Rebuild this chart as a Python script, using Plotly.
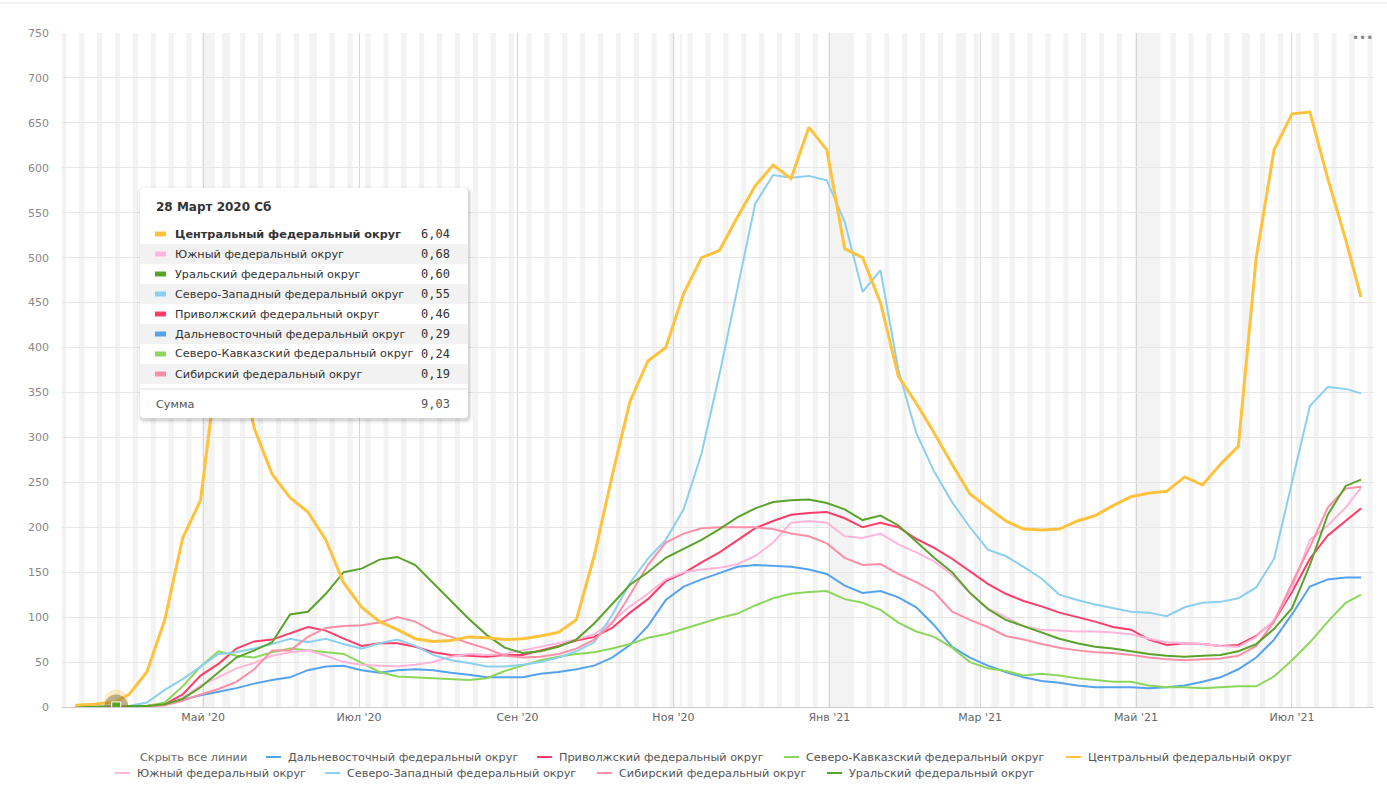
import pandas as pd
import plotly.graph_objects as go

# ---------------- data (weekly readings, per 100k) ----------------
DATES = list(pd.date_range("2020-03-12", "2021-07-22", freq="7D").strftime("%Y-%m-%d")) + ["2021-07-28"]

FAR_EAST = [0, 0, 0.2, 1, 1, 3, 8, 13, 17, 21,
            26, 30, 33, 41, 45, 46, 41, 38, 41, 42,
            41, 38, 36, 33, 33, 33, 37, 39, 42, 46,
            55, 69, 90, 119, 134, 142, 149, 156, 158, 157,
            156, 153, 148, 135, 127, 129, 122, 111, 91, 67,
            55, 46, 39, 33, 29, 27, 24, 22, 22, 22,
            21, 22, 24, 28, 33, 42, 55, 75, 103, 134,
            142, 144, 144]
VOLGA = [0, 0, 0.4, 1, 1, 3, 14, 35, 48, 65,
         73, 75, 82, 89, 85, 76, 68, 71, 71, 67,
         61, 58, 57, 56, 58, 58, 63, 68, 74, 78,
         88, 105, 120, 140, 149, 161, 172, 186, 199, 207,
         214, 216, 217, 210, 200, 205, 200, 187, 177, 165,
         151, 137, 126, 118, 112, 105, 100, 95, 89, 86,
         75, 69, 71, 70, 68, 69, 79, 96, 128, 165,
         191, 207, 221]
N_CAUCASUS = [0, 0, 0.2, 0.5, 1, 5, 23, 45, 62, 57,
              55, 61, 65, 63, 61, 59, 49, 39, 34, 33,
              32, 31, 30, 32, 40, 46, 52, 56, 59, 61,
              65, 70, 77, 81, 87, 93, 99, 104, 113, 121,
              126, 128, 129, 120, 116, 108, 94, 84, 78, 66,
              50, 43, 40, 35, 37, 35, 32, 30, 28, 28,
              24, 22, 22, 21, 22, 23, 23, 34, 52, 72,
              95, 116, 125]
CENTRAL = [2, 3, 5, 14, 39, 97, 188, 230, 390, 400,
           310, 259, 233, 217, 186, 138, 111, 95, 86, 76,
           73, 74, 78, 77, 75, 76, 79, 83, 97, 168,
           257, 340, 385, 400, 460, 500, 508, 545, 580, 603,
           588, 645, 620, 510, 500, 450, 368, 338, 305, 270,
           237, 222, 207, 198, 197, 198, 207, 213, 224, 234,
           238, 240, 256, 247, 270, 290, 500, 620, 660, 662,
           588, 520, 456]
SOUTH = [0, 0, 0.6, 1, 1, 2, 10, 24, 33, 43,
         49, 57, 61, 63, 57, 50, 47, 46, 45, 47,
         50, 56, 59, 58, 59, 63, 67, 71, 75, 81,
         95, 112, 126, 142, 150, 153, 155, 159, 168, 183,
         205, 207, 205, 190, 188, 193, 181, 172, 162, 147,
         127, 110, 100, 90, 86, 85, 84, 84, 83, 81,
         76, 72, 71, 70, 68, 67, 78, 97, 132, 186,
         202, 222, 244]
NORTH_WEST = [0, 0, 0.5, 1, 5, 19, 31, 45, 59, 61,
              65, 70, 76, 72, 76, 70, 65, 71, 75, 68,
              58, 52, 49, 45, 45, 47, 50, 55, 62, 72,
              102, 138, 165, 186, 220, 282, 370, 465, 560, 592,
              589, 591, 586, 540, 462, 486, 375, 305, 262, 228,
              200, 175, 168, 156, 143, 125, 119, 114, 110, 106,
              105, 101, 111, 116, 117, 121, 133, 165, 250, 335,
              356, 354, 349]
SIBERIA = [0, 0, 0.15, 1, 1, 2, 7, 14, 20, 28,
           42, 63, 63, 78, 88, 90, 91, 94, 100, 95,
           84, 78, 71, 65, 57, 55, 56, 59, 65, 75,
           93, 125, 158, 183, 193, 199, 200, 200, 200, 198,
           193, 190, 182, 166, 158, 159, 148, 139, 128, 106,
           97, 89, 79, 75, 70, 66, 63, 61, 60, 58,
           55, 53, 52, 53, 54, 57, 68, 95, 138, 178,
           222, 243, 245]
URAL = [0, 0, 0.5, 1, 1, 3, 9, 22, 39, 55,
        63, 72, 103, 106, 126, 150, 154, 164, 167, 158,
        138, 118, 98, 80, 66, 60, 62, 67, 75, 93,
        115, 136, 150, 166, 176, 186, 198, 211, 221, 228,
        230, 231, 227, 220, 208, 213, 202, 184, 166, 150,
        127, 109, 97, 90, 83, 76, 71, 67, 65, 62,
        59, 57, 56, 57, 58, 62, 70, 87, 110, 158,
        214, 246, 253]

NAMES = {
    "fe": "Дальневосточный федеральный округ",
    "vo": "Приволжский федеральный округ",
    "nc": "Северо-Кавказский федеральный округ",
    "ce": "Центральный федеральный округ",
    "so": "Южный федеральный округ",
    "nw": "Северо-Западный федеральный округ",
    "si": "Сибирский федеральный округ",
    "ur": "Уральский федеральный округ",
}
SERIES = {"fe": FAR_EAST, "vo": VOLGA, "nc": N_CAUCASUS, "ce": CENTRAL,
          "so": SOUTH, "nw": NORTH_WEST, "si": SIBERIA, "ur": URAL}

# hovered day shown in the tooltip
HOVER_DATE = "2020-03-28"
HOVER_TITLE = "28 Март 2020 Сб"
HOVER_VALUES = {"ce": 6.04, "so": 0.68, "ur": 0.60, "nw": 0.55,
                "vo": 0.46, "fe": 0.29, "nc": 0.24, "si": 0.19}
HOVER_SUM = 9.03
HOVER_SERIES = "ur"

TICK_DATES = ["2020-05-01", "2020-07-01", "2020-09-01", "2020-11-01",
              "2021-01-01", "2021-03-01", "2021-05-01", "2021-07-01"]
TICK_TEXT = ["Май '20", "Июл '20", "Сен '20", "Ноя '20",
             "Янв '21", "Мар '21", "Май '21", "Июл '21"]

HOLIDAYS = [("2020-05-01", "2020-05-05"), ("2020-05-09", "2020-05-11"),
            ("2020-06-12", "2020-06-14"), ("2020-11-04", "2020-11-04"),
            ("2021-01-01", "2021-01-10"), ("2021-02-21", "2021-02-23"),
            ("2021-03-06", "2021-03-08"), ("2021-05-01", "2021-05-10"),
            ("2021-06-12", "2021-06-14")]

# ---------------- style ----------------
COLORS = {"fe": "#55a3ee", "vo": "#ff3d68", "nc": "#8dd65c", "ce": "#ffc23c",
          "so": "#ffb6da", "nw": "#8ccfee", "si": "#ff8fa6", "ur": "#5aa32a"}
WIDTHS = {k: 2 for k in COLORS}
WIDTHS["ce"] = 3
DRAW_ORDER = ["fe", "vo", "nc", "so", "nw", "si", "ur", "ce"]

W, H = 1387, 792
PL, PR, PT, PB = 62, 1374, 33, 707
FONT = "DejaVu Sans"
TXT = 11.25


def px(x):
    return (x - PL) / (PR - PL)


def py(y):
    return (PB - y) / (PB - PT)


fig = go.Figure()

for key in DRAW_ORDER:
    s = pd.Series(SERIES[key], index=pd.to_datetime(DATES), dtype=float)
    s.loc[pd.Timestamp(HOVER_DATE)] = HOVER_VALUES[key]
    s = s.sort_index()
    fig.add_trace(go.Scatter(
        x=s.index, y=s.values, mode="lines", name=NAMES[key],
        line=dict(color=COLORS[key], width=WIDTHS[key]),
        showlegend=False, hoverinfo="skip"))

# hover halo + marker
fig.add_trace(go.Scatter(x=[HOVER_DATE], y=[HOVER_VALUES["ce"]], mode="markers",
                         marker=dict(size=24, color="rgba(255,200,80,0.35)"),
                         showlegend=False, hoverinfo="skip"))
fig.add_trace(go.Scatter(x=[HOVER_DATE], y=[HOVER_VALUES[HOVER_SERIES]], mode="markers",
                         marker=dict(size=24, color="rgba(110,105,60,0.45)"),
                         showlegend=False, hoverinfo="skip"))
fig.add_trace(go.Scatter(x=[HOVER_DATE], y=[HOVER_VALUES[HOVER_SERIES]], mode="markers",
                         marker=dict(size=9, symbol="square", color=COLORS[HOVER_SERIES],
                                     line=dict(color="white", width=1)),
                         showlegend=False, hoverinfo="skip"))

shapes = []
# weekend stripes
half = pd.Timedelta(hours=12)
for sat in pd.date_range("2020-03-07", "2021-07-31", freq="W-SAT"):
    shapes.append(dict(type="rect", xref="x", yref="paper", x0=sat - half,
                       x1=sat + pd.Timedelta(days=1) + half, y0=0, y1=1,
                       fillcolor="#f3f3f3", line=dict(width=0), layer="below"))
for a, b in HOLIDAYS:
    shapes.append(dict(type="rect", xref="x", yref="paper", x0=pd.Timestamp(a) - half,
                       x1=pd.Timestamp(b) + half, y0=0, y1=1,
                       fillcolor="#f3f3f3", line=dict(width=0), layer="below"))

# top border line
shapes.append(dict(type="line", xref="paper", yref="paper", x0=px(0), x1=px(W),
                   y0=py(3), y1=py(3), line=dict(color="#e3e3e3", width=1)))

annotations = []

# ---------------- tooltip ----------------
TX0, TX1, TY0, TY1 = 140, 468, 188, 418


def rrect(x0, y0, x1, y1, r):
    return (f"M {px(x0 + r)} {py(y0)} L {px(x1 - r)} {py(y0)} "
            f"Q {px(x1)} {py(y0)} {px(x1)} {py(y0 + r)} L {px(x1)} {py(y1 - r)} "
            f"Q {px(x1)} {py(y1)} {px(x1 - r)} {py(y1)} L {px(x0 + r)} {py(y1)} "
            f"Q {px(x0)} {py(y1)} {px(x0)} {py(y1 - r)} L {px(x0)} {py(y0 + r)} "
            f"Q {px(x0)} {py(y0)} {px(x0 + r)} {py(y0)} Z")


for d, op in [(4, 0.03), (2, 0.05), (1, 0.07)]:
    shapes.append(dict(type="path", xref="paper", yref="paper",
                       path=rrect(TX0 - d + 1, TY0 - d + 2, TX1 + d + 1, TY1 + d + 2, 4 + d),
                       fillcolor=f"rgba(0,0,0,{op})", line=dict(width=0), layer="above"))
shapes.append(dict(type="path", xref="paper", yref="paper", path=rrect(TX0, TY0, TX1, TY1, 4),
                   fillcolor="white", line=dict(width=0), layer="above"))

annotations.append(dict(xref="paper", yref="paper", x=px(154), y=py(207), xanchor="left",
                        yanchor="middle", showarrow=False, text=f"<b>{HOVER_TITLE}</b>",
                        font=dict(family=FONT, size=12, color="#333333")))

order = sorted(HOVER_VALUES, key=lambda k: -HOVER_VALUES[k])
ROW0, ROWH = 234, 20
for i, key in enumerate(order):
    yc = ROW0 + i * ROWH
    if i % 2 == 1:
        shapes.append(dict(type="rect", xref="paper", yref="paper", x0=px(TX0), x1=px(TX1),
                           y0=py(yc - 10), y1=py(yc + 10), fillcolor="#f2f2f2",
                           line=dict(width=0), layer="above"))
    shapes.append(dict(type="rect", xref="paper", yref="paper", x0=px(155), x1=px(166),
                       y0=py(yc - 2.5), y1=py(yc + 2.5), fillcolor=COLORS[key],
                       line=dict(width=0), layer="above"))
    name = NAMES[key]
    if i == 0:
        name = f"<b>{name}</b>"
    annotations.append(dict(xref="paper", yref="paper", x=px(173), y=py(yc), xanchor="left",
                            yanchor="middle", showarrow=False, text=name,
                            font=dict(family=FONT, size=TXT, color="#333333")))
    annotations.append(dict(xref="paper", yref="paper", x=px(452), y=py(yc), xanchor="right",
                            yanchor="middle", showarrow=False,
                            text=f"{HOVER_VALUES[key]:.2f}".replace(".", ","),
                            font=dict(family="DejaVu Sans Mono", size=12, color="#333333")))

shapes.append(dict(type="line", xref="paper", yref="paper", x0=px(TX0), x1=px(TX1),
                   y0=py(389), y1=py(389), line=dict(color="#e2e2e2", width=1), layer="above"))
annotations.append(dict(xref="paper", yref="paper", x=px(154), y=py(404), xanchor="left",
                        yanchor="middle", showarrow=False, text="Сумма",
                        font=dict(family=FONT, size=TXT, color="#555555")))
annotations.append(dict(xref="paper", yref="paper", x=px(452), y=py(404), xanchor="right",
                        yanchor="middle", showarrow=False,
                        text=f"{HOVER_SUM:.2f}".replace(".", ","),
                        font=dict(family="DejaVu Sans Mono", size=12, color="#555555")))

# ---------------- legend (drawn like the original) ----------------
LEG_ROWS = [
    (757, [("hide", 138), ("fe", 266), ("vo", 537), ("nc", 784), ("ce", 1066)]),
    (773, [("so", 115), ("nw", 325), ("si", 597), ("ur", 827)]),
]
for yrow, items in LEG_ROWS:
    for key, x0 in items:
        if key == "hide":
            annotations.append(dict(xref="paper", yref="paper", x=px(x0), y=py(yrow),
                                    xanchor="left", yanchor="middle", showarrow=False,
                                    text="Скрыть все линии",
                                    font=dict(family=FONT, size=TXT, color="#666666")))
            continue
        shapes.append(dict(type="line", xref="paper", yref="paper", x0=px(x0), x1=px(x0 + 15),
                           y0=py(yrow), y1=py(yrow), line=dict(color=COLORS[key], width=2)))
        annotations.append(dict(xref="paper", yref="paper", x=px(x0 + 20), y=py(yrow),
                                xanchor="left", yanchor="middle", showarrow=False,
                                text=NAMES[key],
                                font=dict(family=FONT, size=TXT, color="#555555")))

annotations.append(dict(xref="paper", yref="paper", x=px(1362), y=py(38), xanchor="center",
                        yanchor="middle", showarrow=False, text="•••",
                        font=dict(family=FONT, size=12, color="#888888")))

fig.update_layout(
    width=W, height=H,
    margin=dict(l=PL, r=W - PR, t=PT, b=H - PB),
    paper_bgcolor="white", plot_bgcolor="white",
    showlegend=False,
    shapes=shapes, annotations=annotations,
    xaxis=dict(
        type="date",
        range=["2020-03-06 19:00", "2021-08-02 02:00"],
        tickvals=TICK_DATES, ticktext=TICK_TEXT,
        showgrid=True, gridcolor="#d6d6d6", gridwidth=1,
        showline=True, linecolor="#cccccc", linewidth=1,
        ticks="", tickfont=dict(family=FONT, size=11, color="#666666"),
        zeroline=False,
    ),
    yaxis=dict(
        range=[0, 750], dtick=50, tick0=0,
        showgrid=True, gridcolor="#e6e6e6", gridwidth=1,
        zeroline=False, showline=False,
        ticks="", ticklabelstandoff=12,
        tickfont=dict(family=FONT, size=11, color="#888888"),
    ),
)

fig.write_html("out.html", config={"displayModeBar": False},
               post_script="document.body.style.margin='0';")
